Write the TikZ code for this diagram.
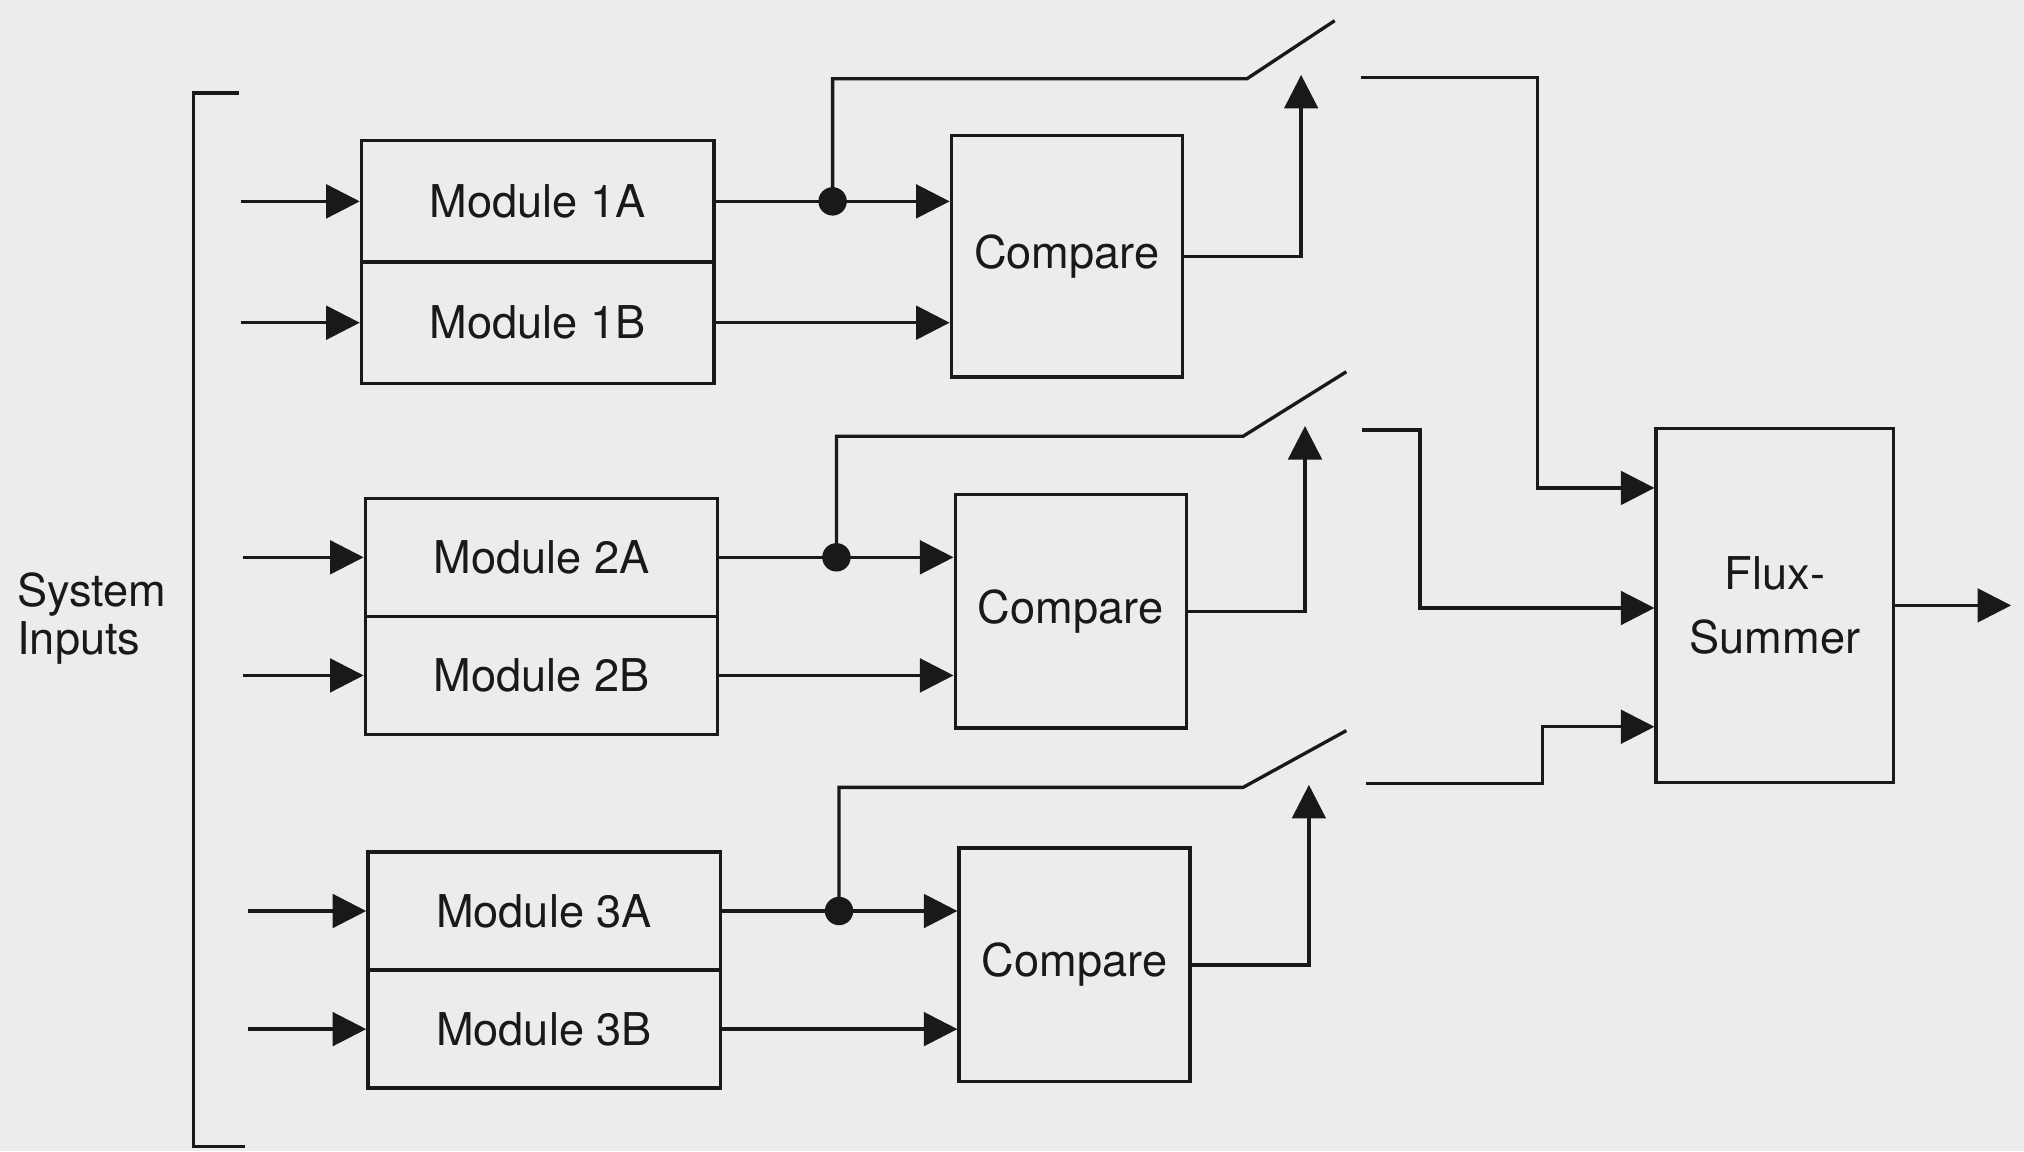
\documentclass[tikz,border=0pt]{standalone}
\usepackage{fontspec}
\setmainfont{TeX Gyre Heros}
\usetikzlibrary{arrows.meta,calc}
\definecolor{paper}{RGB}{236,236,234}
\definecolor{ink}{RGB}{25,25,25}
\begin{document}
\begin{tikzpicture}[x=1pt,y=-1pt, line width=2.6pt, color=ink,
 every node/.style={font=\fontsize{35}{40}\selectfont},
 modbox/.style={draw, rectangle, inner sep=0pt, minimum width=273pt},
 cmpbox/.style={draw, rectangle, inner sep=0pt, minimum width=179pt, minimum height=181pt},
 arr/.style={-{Triangle[length=26pt,width=26pt]}},
 dot/.style={circle, fill=ink, inner sep=0pt, minimum size=22pt},
]
\fill[paper] (0,0) rectangle (1568,892);
\useasboundingbox (0,0) rectangle (1568,892);

% bracket and label
\coordinate (b1) at (185,72);
\coordinate (b2) at (190,888);
\draw (b1) -- ++(-35,0) |- (b2);
\node[anchor=west, inner sep=0pt, align=left, font=\fontsize{35}{37}\selectfont] (si) at (12,479) {System\\Inputs};

% modules
\node[modbox, minimum height=94pt] (m1a) at (416.5,156) {Module 1A};
\node[modbox, minimum height=94pt] (m1b) at (416.5,250) {Module 1B};
\node[modbox, minimum height=91.5pt] (m2a) at (419.5,431.75) {Module 2A};
\node[modbox, minimum height=91.5pt] (m2b) at (419.5,523.25) {Module 2B};
\node[modbox, minimum height=91.5pt] (m3a) at (421.5,705.75) {Module 3A};
\node[modbox, minimum height=91.5pt] (m3b) at (421.5,797.25) {Module 3B};

% compare boxes
\node[cmpbox, minimum height=187pt] (c1) at (826.5,198.5) {Compare};
\node[cmpbox] (c2) at (829.5,473.5) {Compare};
\node[cmpbox] (c3) at (832.5,747.5) {Compare};

% flux summer
\node[draw, inner sep=0pt, minimum width=184pt, minimum height=274pt, align=center, font=\fontsize{35}{50}\selectfont] (f) at (1375,469) {Flux-\\Summer};

% inputs
\coordinate (i1a) at (187,156);
\coordinate (i1b) at (187,250);
\coordinate (i2a) at (188,431.75);
\coordinate (i2b) at (188,523.25);
\coordinate (i3a) at (192,705.75);
\coordinate (i3b) at (192,797.25);
\draw[arr] (i1a) -- (m1a.west);
\draw[arr] (i1b) -- (m1b.west);
\draw[arr] (i2a) -- (m2a.west);
\draw[arr] (i2b) -- (m2b.west);
\draw[arr] (i3a) -- (m3a.west);
\draw[arr] (i3b) -- (m3b.west);

% module outputs to compare
\draw[arr] (m1a.east) -- (m1a.east -| c1.west);
\draw[arr] (m1b.east) -- (m1b.east -| c1.west);
\draw[arr] (m2a.east) -- (m2a.east -| c2.west);
\draw[arr] (m2b.east) -- (m2b.east -| c2.west);
\draw[arr] (m3a.east) -- (m3a.east -| c3.west);
\draw[arr] (m3b.east) -- (m3b.east -| c3.west);

% junction dots
\node[dot] (d1) at (645,156) {};
\node[dot] (d2) at (648,431.75) {};
\node[dot] (d3) at (650,705.75) {};

% switch paths
\coordinate (s1a) at (966,61);
\coordinate (s1b) at (1034,16);
\coordinate (s2a) at (963,338);
\coordinate (s2b) at (1043,288);
\coordinate (s3a) at (963,610);
\coordinate (s3b) at (1043,566);
\draw[line join=miter] (d1.center) -- (d1.center |- s1a) -- (s1a) -- (s1b);
\draw[line join=miter] (d2.center) -- (d2.center |- s2a) -- (s2a) -- (s2b);
\draw[line join=miter] (d3.center) -- (d3.center |- s3a) -- (s3a) -- (s3b);

% compare outputs to switch control
\coordinate (t1) at (1008,58);
\coordinate (t2) at (1011,330);
\coordinate (t3) at (1014,608);
\draw[arr] (c1.east) -- (c1.east -| t1) -- (t1);
\draw[arr] (c2.east) -- (c2.east -| t2) -- (t2);
\draw[arr] (c3.east) -- (c3.east -| t3) -- (t3);

% switch outputs to flux summer
\coordinate (o1) at (1054,60);
\coordinate (o2) at (1055,333);
\coordinate (o3) at (1058,607);
\coordinate (k1) at (1191,378);
\coordinate (k2) at (1100,471);
\coordinate (k3) at (1195,563);
\draw[arr] (o1) -| (k1) -- (k1 -| f.west);
\draw[arr] (o2) -| (k2) -- (k2 -| f.west);
\draw[arr] (o3) -| (k3) -- (k3 -| f.west);

% final output
\coordinate (fo) at (1558,469);
\draw[arr] (f.east) -- (fo);
\end{tikzpicture}
\end{document}
